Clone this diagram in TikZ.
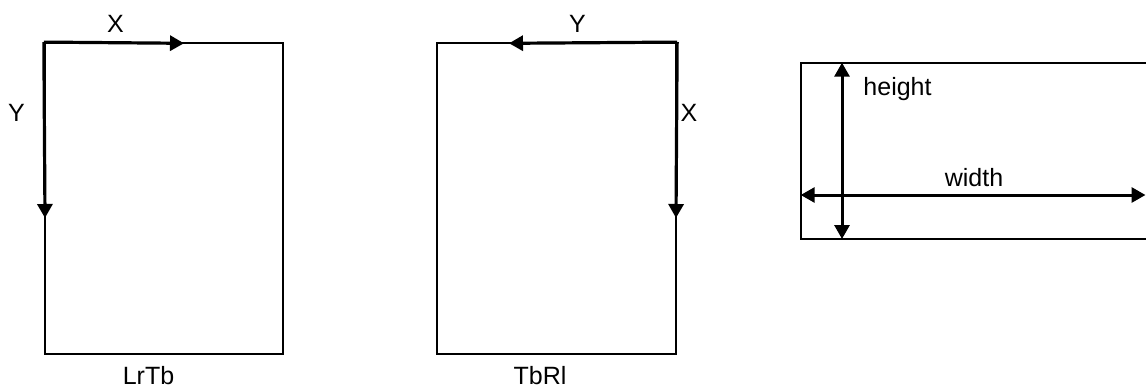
\documentclass[tikz,border=0pt]{standalone}
\usepackage{fontspec}
\setmainfont{Liberation Sans}
\usetikzlibrary{arrows.meta}

\begin{document}
\begin{tikzpicture}[
  x=1pt, y=-1pt,
  pagebox/.style={rectangle, draw, line width=2.3pt, inner sep=0pt},
  axis/.style={-{Triangle[length=14pt, width=15pt]}, line width=3.2pt},
  dim/.style={{Triangle[length=14pt, width=15pt]}-{Triangle[length=14pt, width=15pt]}, line width=3pt},
  lbl/.style={font=\fontsize{25}{30}\selectfont, inner sep=0pt}
]
\useasboundingbox (0,0) rectangle (1146,388);
\clip (0,0) rectangle (1146,388);

\node[pagebox, minimum width=238pt, minimum height=310.7pt] (lrtb) at (164,198.6) {};
\node[pagebox, minimum width=239pt, minimum height=310.7pt] (tbrl) at (556.5,198.6) {};
\node[pagebox, minimum width=400pt, minimum height=176.3pt] (dims) at (1000.7,150.9) {};

\coordinate (lrX) at (184,43.3);
\coordinate (lrY) at (45,218);
\coordinate (tbY) at (509,43.3);
\coordinate (tbX) at (676,218);
\coordinate (hTop) at (842,62.7);
\coordinate (hBot) at (842,239);
\coordinate (wLeft) at (800.7,195);
\coordinate (wRight) at (1145.5,195);

\draw[axis] (lrtb.north west) -- (lrX);
\draw[axis] (lrtb.north west) -- (lrY);
\draw[axis] (tbrl.north east) -- (tbY);
\draw[axis] (tbrl.north east) -- (tbX);
\draw[dim] (hTop) -- (hBot);
\draw[dim] (wLeft) -- (wRight);

\node[lbl] (labLrX) at (115.5,24) {X};
\node[lbl] (labLrY) at (16.5,112.5) {Y};
\node[lbl] (labTbY) at (577.5,24) {Y};
\node[lbl] (labTbX) at (689,112.5) {X};
\node[lbl] (labHeight) at (897.5,89) {height};
\node[lbl] (labWidth) at (974,177.5) {width};
\node[lbl] (labLrTb) at (148.5,375.5) {LrTb};
\node[lbl] (labTbRl) at (540,375.5) {TbRl};
\end{tikzpicture}
\end{document}
